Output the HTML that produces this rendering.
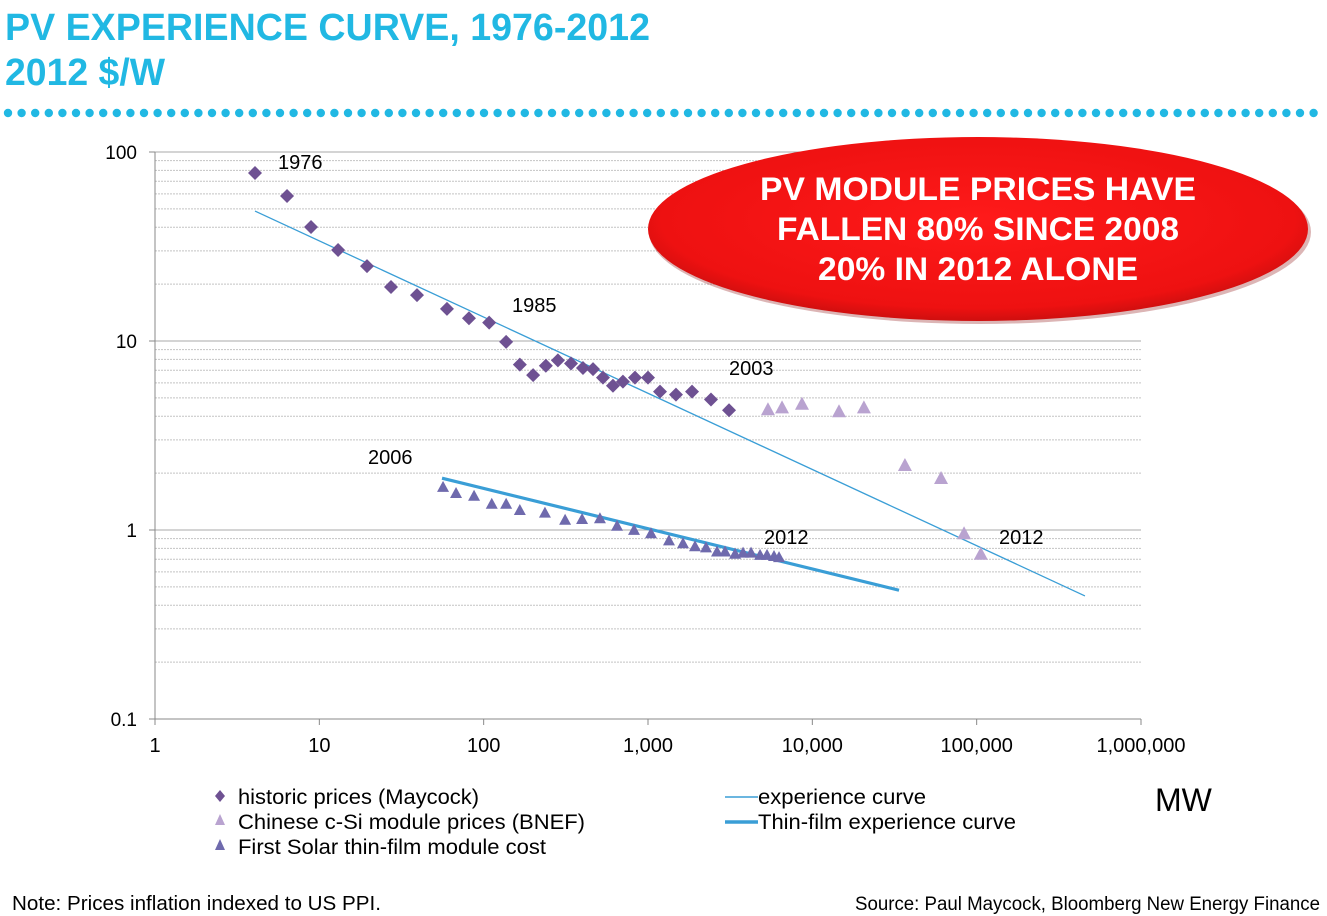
<!DOCTYPE html>
<html><head><meta charset="utf-8"><style>
html,body{margin:0;padding:0;background:#fff;}
svg{display:block;font-family:"Liberation Sans",sans-serif;}
</style></head><body>
<svg id="c" width="1327" height="916" viewBox="0 0 1327 916">
<defs>
<radialGradient id="rg" cx="0.5" cy="0.45" r="0.6">
<stop offset="0" stop-color="#ff1a1a"/><stop offset="0.8" stop-color="#ee1111"/><stop offset="1" stop-color="#b80d0d"/>
</radialGradient>
</defs>
<text x="5" y="40" font-size="38" font-weight="bold" fill="#21b8e3" textLength="645" lengthAdjust="spacingAndGlyphs">PV EXPERIENCE CURVE, 1976-2012</text>
<text x="5" y="85" font-size="38" font-weight="bold" fill="#21b8e3" textLength="160" lengthAdjust="spacingAndGlyphs">2012 $/W</text>
<g id="dots"></g>
<g id="grid"></g>
<g id="axes"></g>
<g id="series"></g>
<g>
<ellipse cx="980" cy="232" rx="331" ry="92" fill="#8a0a0a" opacity="0.3"/>
<ellipse cx="978" cy="229" rx="330" ry="92" fill="url(#rg)"/>
<text x="978" y="200" font-size="32" font-weight="bold" fill="#fff" text-anchor="middle" textLength="436" lengthAdjust="spacingAndGlyphs">PV MODULE PRICES HAVE</text>
<text x="978" y="240" font-size="32" font-weight="bold" fill="#fff" text-anchor="middle" textLength="402" lengthAdjust="spacingAndGlyphs">FALLEN 80% SINCE 2008</text>
<text x="978" y="280" font-size="32" font-weight="bold" fill="#fff" text-anchor="middle" textLength="320" lengthAdjust="spacingAndGlyphs">20% IN 2012 ALONE</text>
</g>
<g font-size="20" fill="#000">
<text x="278" y="169">1976</text><text x="512" y="312">1985</text><text x="729" y="375">2003</text>
<text x="368" y="464">2006</text><text x="764" y="544">2012</text><text x="999" y="544">2012</text>
</g>
<g font-size="21" fill="#000">
<path d="M220 790 l5 6 l-5 6 l-5 -6z" fill="#6e5192"/><text x="238" y="804" textLength="241" lengthAdjust="spacingAndGlyphs">historic prices (Maycock)</text>
<path d="M220 814 l5 11 h-10z" fill="#b9a3d0"/><text x="238" y="829" textLength="347" lengthAdjust="spacingAndGlyphs">Chinese c-Si module prices (BNEF)</text>
<path d="M220 839 l5 11 h-10z" fill="#6f6aad"/><text x="238" y="854" textLength="308" lengthAdjust="spacingAndGlyphs">First Solar thin-film module cost</text>
<line x1="725" y1="797" x2="758" y2="797" stroke="#3a9ed6" stroke-width="1.5"/><text x="758" y="804" textLength="168" lengthAdjust="spacingAndGlyphs">experience curve</text>
<line x1="725" y1="822" x2="758" y2="822" stroke="#3a9ed6" stroke-width="3.5"/><text x="758" y="829" textLength="258" lengthAdjust="spacingAndGlyphs">Thin-film experience curve</text>
</g>
<text x="1155" y="811" font-size="32">MW</text>
<text x="12" y="910" font-size="20" textLength="369" lengthAdjust="spacingAndGlyphs">Note: Prices inflation indexed to US PPI.</text>
<text x="855" y="910" font-size="19" textLength="465" lengthAdjust="spacingAndGlyphs">Source: Paul Maycock, Bloomberg New Energy Finance</text>
</svg>
<script>
const xTicks=[1,10,100,1000,10000,100000,1000000];
const xTickLabels=["1","10","100","1,000","10,000","100,000","1,000,000"];
const yTicks=[0.1,1,10,100];
const yTickLabels=["0.1","1","10","100"];
const histX=[4.06,6.36,8.9,13.0,19.5,27.3,39.3,59.8,81.4,108,137,166,200,239,283,340,402,463,532,612,704,833,1000,1183,1480,1853,2417,3112];
const histY=[77.4,58.5,40.1,30.3,24.9,19.3,17.5,14.8,13.2,12.5,9.9,7.5,6.6,7.4,7.9,7.6,7.2,7.1,6.4,5.8,6.1,6.4,6.4,5.4,5.2,5.4,4.9,4.3];
const chinaX=[5370,6540,8650,14530,20600,36600,60700,83800,106000];
const chinaY=[4.3,4.4,4.6,4.2,4.4,2.18,1.86,0.95,0.74];
const fsX=[56.6,67.9,87.4,112,137,166,236,313,397,510,648,822,1043,1342,1633,1932,2254,2630,2944,3388,3788,4237,4806,5300,5845,6270];
const fsY=[1.67,1.55,1.50,1.36,1.36,1.26,1.22,1.12,1.13,1.14,1.04,0.99,0.95,0.87,0.84,0.81,0.80,0.76,0.76,0.74,0.75,0.75,0.73,0.73,0.72,0.71];
const expX=[4.06,456000];
const expY=[48.7,0.448];
const tfX=[55.8,33700];
const tfY=[1.88,0.48];
const L=155,R=1141,T=152,B=719;
const sx=v=>L+(Math.log10(v)-0)/6*(R-L);
const sy=v=>B-(Math.log10(v)+1)/3*(B-T);
const NS="http://www.w3.org/2000/svg";
function mk(tag,parent,attrs){const e=document.createElementNS(NS,tag);for(const k in attrs)e.setAttribute(k,attrs[k]);parent.appendChild(e);return e;}
const dots=document.getElementById('dots');
for(let x=8;x<1327;x+=13.6){const d=mk('circle',dots,{cx:x,cy:113,r:4.2,fill:'#21b8e3'});}
const grid=document.getElementById('grid');
for(let e=-1;e<2;e++){for(let m=2;m<=10;m++){const v=m*Math.pow(10,e);const y=sy(v);
const ln=mk('line',grid,{x1:L,x2:R,y1:y,y2:y,stroke:m==10?'#a8a8a8':'#c4c4c4','stroke-width':1,'stroke-dasharray':m==10?'none':'2,1'});

}}
const axes=document.getElementById('axes');
mk('line',axes,{x1:L,x2:L,y1:T,y2:B,stroke:'#888','stroke-width':1});
mk('line',axes,{x1:L,x2:R,y1:B,y2:B,stroke:'#888','stroke-width':1});
xTicks.forEach((v,i)=>{const x=sx(v);mk('line',axes,{x1:x,x2:x,y1:B,y2:B+6,stroke:'#888'});
const t=mk('text',axes,{x:x,y:752,'font-size':20,'text-anchor':'middle'});t.textContent=xTickLabels[i];

});
yTicks.forEach((v,i)=>{const y=sy(v);mk('line',axes,{x1:L-6,x2:L,y1:y,y2:y,stroke:'#888'});
const t=mk('text',axes,{x:137,y:y+7,'font-size':19,'text-anchor':'end'});t.textContent=yTickLabels[i];

});
const s=document.getElementById('series');
const l1=mk('line',s,{x1:sx(expX[0]),y1:sy(expY[0]),x2:sx(expX[1]),y2:sy(expY[1]),stroke:'#3a9ed6','stroke-width':1.3});


const l2=mk('line',s,{x1:sx(tfX[0]),y1:sy(tfY[0]),x2:sx(tfX[1]),y2:sy(tfY[1]),stroke:'#3a9ed6','stroke-width':3.2});


histX.forEach((v,i)=>{const x=sx(v),y=sy(histY[i]);
const p=mk('path',s,{d:`M${x} ${y-7} L${x+7} ${y} L${x} ${y+7} L${x-7} ${y}Z`,fill:'#6e5192'});

});
chinaX.forEach((v,i)=>{const x=sx(v),y=sy(chinaY[i]);
const p=mk('path',s,{d:`M${x} ${y-8} L${x+7} ${y+5} L${x-7} ${y+5}Z`,fill:'#b9a3d0'});

});
fsX.forEach((v,i)=>{const x=sx(v),y=sy(fsY[i]);
const p=mk('path',s,{d:`M${x} ${y-7} L${x+6} ${y+4} L${x-6} ${y+4}Z`,fill:'#6f6aad'});

});
</script>
</body></html>
